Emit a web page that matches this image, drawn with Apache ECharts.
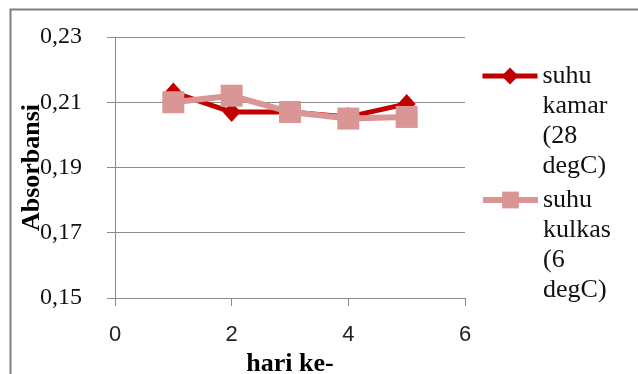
<!DOCTYPE html>
<html>
<head>
<meta charset="utf-8">
<script src="https://cdn.jsdelivr.net/npm/echarts@6/dist/echarts.min.js"></script>
<style>
  html, body { margin: 0; padding: 0; background: #fff; }
  #chart { width: 638px; height: 374px; }
</style>
</head>
<body>
<div id="chart"></div>
<script>
// Absorbance measured per day, room temperature vs refrigerator storage
const days = [1, 2, 3, 4, 5];
const seriesNames = ['suhu kamar (28 degC)', 'suhu kulkas (6 degC)'];
const kamar = [0.213, 0.207, 0.207, 0.2055, 0.2095];
const kulkas = [0.210, 0.212, 0.207, 0.205, 0.2055];
const yTicks = [0.15, 0.17, 0.19, 0.21, 0.23];
const xTicks = [0, 2, 4, 6];

const serif = '"Liberation Serif", "Times New Roman", serif';
const sans = '"Liberation Sans", Arial, sans-serif';
const gray = '#8c8c8c';

const pairs = vals => days.map((d, i) => [d, vals[i]]);

// legend label: one word per line; leading blank lines keep the first word level with the icon
const wrapName = n => {
  const words = n.split(' ');
  const blanks = new Array(words.length - 1).fill('').join('\n');
  return blanks + '\n' + words.join('\n');
};
const legendText = {
  fontFamily: serif,
  fontSize: 26,
  lineHeight: 30,
  color: '#111'
};
const legendBase = {
  orient: 'vertical',
  left: 475,
  itemWidth: 55,
  itemHeight: 21,
  formatter: wrapName,
  textStyle: legendText
};

const chart = echarts.init(document.getElementById('chart'), null, { renderer: 'canvas' });
chart.setOption({
  animation: false,
  backgroundColor: '#fff',
  graphic: [{
    type: 'rect',
    shape: { x: 10.5, y: 9.5, width: 800, height: 600 },
    style: { fill: 'none', stroke: '#7f7f7f', lineWidth: 2 },
    silent: true
  }],
  grid: { left: 115, top: 37, width: 350, height: 261, outerBoundsMode: 'none', containLabel: false },
  xAxis: {
    type: 'value',
    min: xTicks[0],
    max: xTicks[xTicks.length - 1],
    interval: 2,
    name: 'hari ke-',
    nameLocation: 'middle',
    nameGap: 46,
    nameTextStyle: { fontFamily: serif, fontSize: 26, fontWeight: 'bold', color: '#000' },
    axisLine: { lineStyle: { color: gray, width: 1 } },
    axisTick: { show: true, inside: false, length: 8, lineStyle: { color: gray } },
    axisLabel: { margin: 26, fontFamily: sans, fontSize: 22, color: '#222' },
    splitLine: { show: false }
  },
  yAxis: {
    type: 'value',
    min: yTicks[0],
    max: yTicks[yTicks.length - 1],
    interval: 0.02,
    name: 'Absorbansi',
    nameLocation: 'middle',
    nameGap: 70,
    nameMoveOverlap: false,
    nameTextStyle: { fontFamily: serif, fontSize: 26, fontWeight: 'bold', color: '#000' },
    axisLine: { show: true, lineStyle: { color: gray, width: 1 } },
    axisTick: { show: true, inside: false, length: 8, lineStyle: { color: gray } },
    axisLabel: {
      margin: 33,
      fontFamily: serif,
      fontSize: 24,
      color: '#111',
      formatter: v => v.toFixed(2).replace('.', ',')
    },
    splitLine: { show: true, lineStyle: { color: gray, width: 1 } }
  },
  legend: [
    Object.assign({}, legendBase, { data: [seriesNames[0]], top: -34, lineStyle: { width: 5 } }),
    Object.assign({}, legendBase, { data: [seriesNames[1]], top: 90, lineStyle: { width: 6 } })
  ],
  series: [
    {
      name: seriesNames[0],
      type: 'line',
      data: pairs(kamar),
      symbol: 'diamond',
      symbolSize: [18, 20],
      lineStyle: { color: '#c00000', width: 5 },
      itemStyle: { color: '#c00000' }
    },
    {
      name: seriesNames[1],
      type: 'line',
      data: pairs(kulkas),
      symbol: 'rect',
      symbolSize: 22,
      lineStyle: { color: '#d99694', width: 6 },
      itemStyle: { color: '#d99694' }
    }
  ]
});
</script>
</body>
</html>
